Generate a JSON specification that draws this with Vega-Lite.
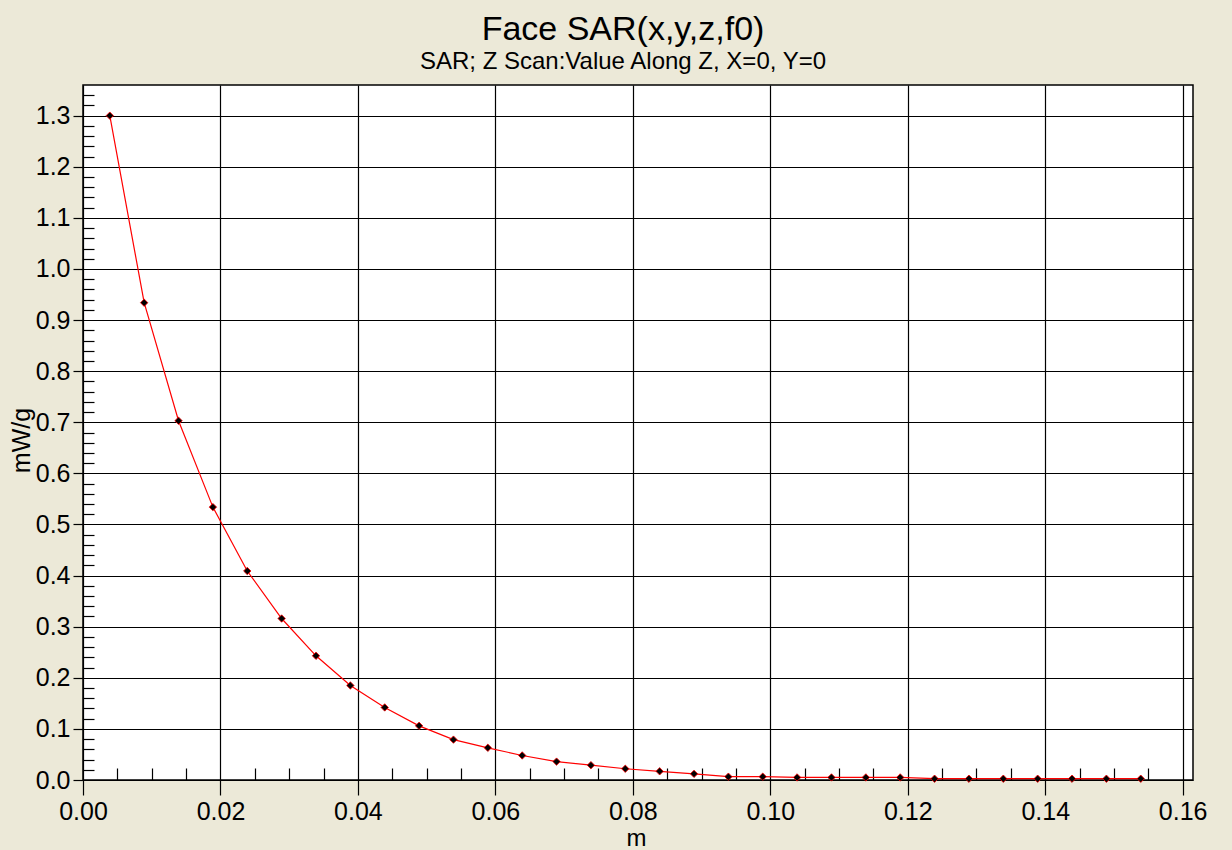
{
  "$schema": "https://vega.github.io/schema/vega-lite/v6.json",
  "autosize": {"type": "none"},
  "width": 1110,
  "height": 695,
  "padding": {"left": 83, "top": 85, "right": 39, "bottom": 70},
  "background": "#ECE9D8",
  "title": {
    "text": "Face SAR(x,y,z,f0)",
    "subtitle": "SAR; Z Scan:Value Along Z, X=0, Y=0",
    "anchor": "middle",
    "frame": "group",
    "dx": -15,
    "offset": 11,
    "font": "Liberation Sans",
    "fontSize": 34,
    "fontWeight": "normal",
    "color": "black",
    "subtitleFont": "Liberation Sans",
    "subtitleFontSize": 24,
    "subtitleColor": "black",
    "subtitlePadding": 3
  },
  "config": {
    "view": {"fill": "white", "stroke": "black", "strokeWidth": 1.5},
    "axis": {
      "labelFont": "Liberation Sans",
      "titleFont": "Liberation Sans",
      "labelColor": "black",
      "titleColor": "black",
      "tickColor": "black",
      "gridColor": "black",
      "gridOpacity": 1,
      "tickOpacity": 1,
      "domain": false,
      "labelFlush": false,
      "labelOverlap": false
    }
  },
  "data": {
    "values": [
      {"z": 0.0039, "sar": 1.300},
      {"z": 0.0089, "sar": 0.934},
      {"z": 0.0139, "sar": 0.703},
      {"z": 0.0189, "sar": 0.534},
      {"z": 0.0239, "sar": 0.409},
      {"z": 0.0289, "sar": 0.316},
      {"z": 0.0339, "sar": 0.243},
      {"z": 0.0389, "sar": 0.185},
      {"z": 0.0439, "sar": 0.142},
      {"z": 0.0489, "sar": 0.106},
      {"z": 0.0539, "sar": 0.079},
      {"z": 0.0589, "sar": 0.063},
      {"z": 0.0639, "sar": 0.048},
      {"z": 0.0689, "sar": 0.036},
      {"z": 0.0739, "sar": 0.029},
      {"z": 0.0789, "sar": 0.022},
      {"z": 0.0839, "sar": 0.017},
      {"z": 0.0889, "sar": 0.012},
      {"z": 0.0939, "sar": 0.0065},
      {"z": 0.0989, "sar": 0.0065},
      {"z": 0.1039, "sar": 0.005},
      {"z": 0.1089, "sar": 0.005},
      {"z": 0.1139, "sar": 0.005},
      {"z": 0.1189, "sar": 0.005},
      {"z": 0.1239, "sar": 0.0025},
      {"z": 0.1289, "sar": 0.0025},
      {"z": 0.1339, "sar": 0.0025},
      {"z": 0.1389, "sar": 0.0025},
      {"z": 0.1439, "sar": 0.0025},
      {"z": 0.1489, "sar": 0.0025},
      {"z": 0.1539, "sar": 0.0025}
    ]
  },
  "layer": [
    {
      "mark": {"type": "line", "color": "#ff0000", "strokeWidth": 1.2},
      "encoding": {
        "x": {
          "field": "z",
          "type": "quantitative",
          "scale": {"domain": [0, 0.1615], "nice": false, "zero": false},
          "axis": {
            "orient": "bottom",
            "values": [0, 0.02, 0.04, 0.06, 0.08, 0.1, 0.12, 0.14, 0.16],
            "format": ".2f",
            "grid": true,
            "gridWidth": 1.2,
            "tickSize": 15,
            "tickWidth": 1.2,
            "labelFontSize": 25,
            "labelPadding": 4,
            "title": "m",
            "titleFontSize": 24,
            "titleFontWeight": "normal",
            "titleX": 553,
            "titleY": 58,
            "titleAlign": "center",
            "titleBaseline": "middle"
          }
        },
        "y": {
          "field": "sar",
          "type": "quantitative",
          "scale": {"domain": [0, 1.36], "nice": false, "zero": false},
          "axis": {
            "orient": "left",
            "values": [0, 0.1, 0.2, 0.3, 0.4, 0.5, 0.6, 0.7, 0.8, 0.9, 1.0, 1.1, 1.2, 1.3],
            "format": ".1f",
            "grid": true,
            "gridWidth": 1.2,
            "tickSize": 10,
            "tickWidth": 1.2,
            "labelFontSize": 25,
            "labelPadding": 3,
            "title": "mW/g",
            "titleFontSize": 25,
            "titleFontWeight": "normal",
            "titleAngle": -90,
            "titleX": -62,
            "titleY": 355,
            "titleAlign": "center",
            "titleBaseline": "middle"
          }
        }
      }
    },
    {
      "mark": {"type": "point", "shape": "diamond", "filled": true, "color": "black", "stroke": "#ff0000", "strokeWidth": 0.8, "size": 55, "opacity": 1},
      "encoding": {
        "x": {
          "field": "z",
          "type": "quantitative",
          "axis": {
            "orient": "bottom",
            "values": [0.005, 0.01, 0.015, 0.025, 0.03, 0.035, 0.045, 0.05, 0.055, 0.065, 0.07, 0.075, 0.085, 0.09, 0.095, 0.105, 0.11, 0.115, 0.125, 0.13, 0.135, 0.145, 0.15, 0.155],
            "grid": false,
            "labels": false,
            "tickSize": -12,
            "tickWidth": 1.2,
            "title": null
          }
        },
        "y": {
          "field": "sar",
          "type": "quantitative",
          "axis": {
            "orient": "left",
            "values": [0.02, 0.04, 0.06, 0.08, 0.12, 0.14, 0.16, 0.18, 0.22, 0.24, 0.26, 0.28, 0.32, 0.34, 0.36, 0.38, 0.42, 0.44, 0.46, 0.48, 0.52, 0.54, 0.56, 0.58, 0.62, 0.64, 0.66, 0.68, 0.72, 0.74, 0.76, 0.78, 0.82, 0.84, 0.86, 0.88, 0.92, 0.94, 0.96, 0.98, 1.02, 1.04, 1.06, 1.08, 1.12, 1.14, 1.16, 1.18, 1.22, 1.24, 1.26, 1.28, 1.32, 1.34],
            "grid": false,
            "labels": false,
            "tickSize": -11,
            "tickWidth": 1.2,
            "title": null
          }
        }
      }
    }
  ],
  "resolve": {"axis": {"x": "independent", "y": "independent"}}
}
